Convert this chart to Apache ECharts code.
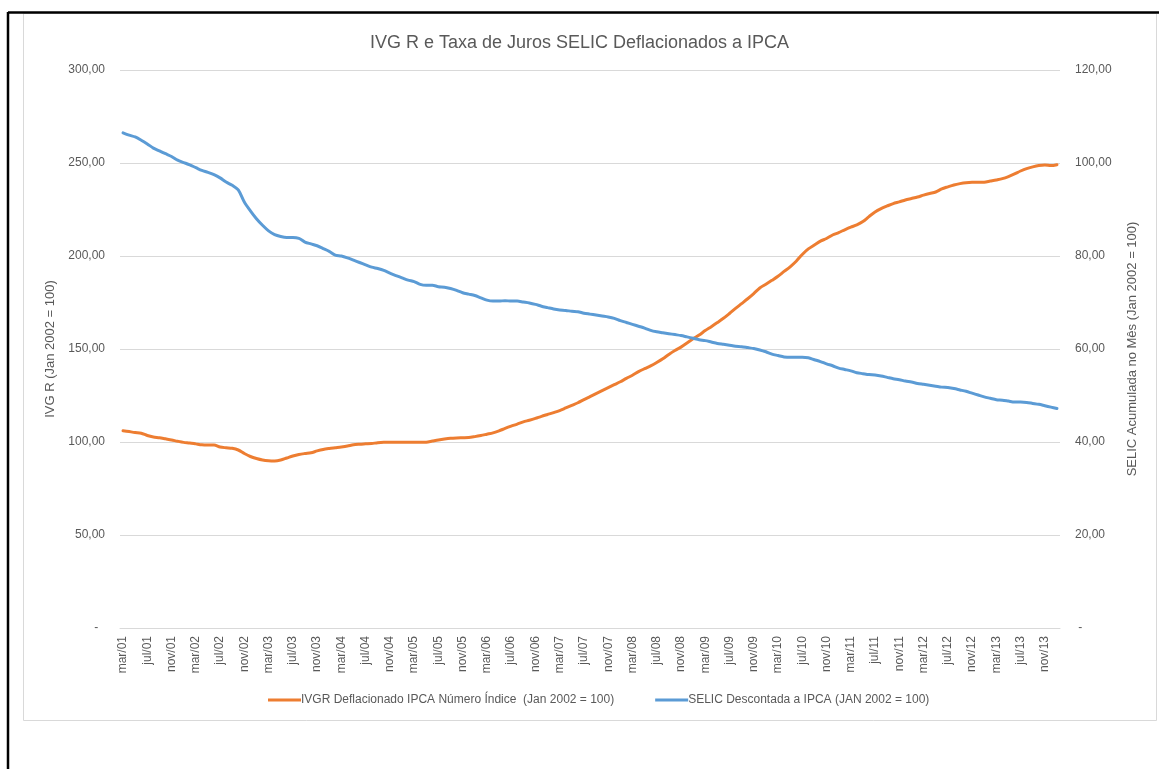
<!DOCTYPE html>
<html>
<head>
<meta charset="utf-8">
<script src="https://cdn.jsdelivr.net/npm/echarts@6/dist/echarts.min.js"></script>
<style>
html,body{margin:0;padding:0;background:#fff;}
#chart{width:1159px;height:769px;}
</style>
</head>
<body>
<div id="chart"></div>
<script>
// Months (Portuguese abbreviations), series runs mar/01 .. jan/14
var monthNames = ["jan","fev","mar","abr","mai","jun","jul","ago","set","out","nov","dez"];
var categories = [];
(function(){
  var y = 2001, m = 2;
  for (var k = 0; k < 155; k++) {
    categories.push(monthNames[m] + "/" + String(y % 100).padStart(2, "0"));
    m++; if (m === 12) { m = 0; y++; }
  }
})();

var ivgrValues = [
106.1,105.6,105.1,104.7,103.5,102.7,102.3,101.7,101.1,100.4,
99.8,99.5,99.0,98.5,98.4,98.4,97.3,96.9,96.6,95.7,
93.8,92.2,91.1,90.3,89.9,89.8,90.3,91.4,92.5,93.3,
93.8,94.2,95.2,96.0,96.5,96.9,97.3,97.8,98.5,98.8,
99.0,99.2,99.6,99.8,99.8,99.8,99.8,99.9,99.9,99.8,
99.9,100.5,101.1,101.6,102.0,102.2,102.3,102.4,102.9,103.5,
104.2,104.9,106.0,107.3,108.5,109.6,110.8,111.7,112.7,113.8,
114.8,115.8,116.9,118.3,119.7,121.1,122.8,124.4,126.0,127.6,
129.2,130.8,132.4,134.2,135.9,137.8,139.4,140.9,142.7,144.7,
147.1,149.2,151.0,153.2,155.5,157.5,159.9,162.0,164.2,166.5,
169.1,171.8,174.4,177.0,179.8,182.8,184.8,186.9,189.1,191.7,
194.2,197.2,200.8,203.8,205.9,208.0,209.4,211.3,212.6,214.1,
215.5,216.7,218.5,221.2,223.7,225.5,226.9,228.2,229.1,230.1,
230.9,231.7,232.7,233.6,234.4,236.1,237.2,238.2,238.9,239.4,
239.6,239.6,239.7,240.3,240.9,241.6,242.7,244.1,245.7,247.0,
247.9,248.6,248.9,248.6,249.1
];

var selicValues = [
106.5,106.0,105.6,104.9,104.1,103.2,102.6,102.0,101.4,100.6,
100.1,99.6,99.0,98.4,98.0,97.5,96.8,95.9,95.2,94.2,
91.6,89.7,88.0,86.6,85.4,84.6,84.2,84.0,84.0,83.8,
83.0,82.6,82.2,81.6,81.0,80.2,80.0,79.6,79.1,78.6,
78.1,77.6,77.3,76.9,76.3,75.8,75.3,74.8,74.5,73.9,
73.7,73.7,73.4,73.3,73.0,72.6,72.1,71.8,71.5,71.0,
70.5,70.3,70.3,70.4,70.3,70.3,70.1,69.9,69.6,69.2,
68.9,68.6,68.4,68.3,68.1,68.0,67.7,67.5,67.3,67.1,
66.9,66.6,66.1,65.7,65.3,64.9,64.5,64.0,63.7,63.5,
63.3,63.1,62.9,62.6,62.3,62.0,61.8,61.5,61.2,61.0,
60.8,60.6,60.5,60.3,60.1,59.8,59.4,58.9,58.6,58.3,
58.2,58.2,58.2,58.1,57.7,57.3,56.8,56.4,55.9,55.6,
55.3,54.9,54.7,54.5,54.4,54.2,53.9,53.6,53.4,53.1,
52.9,52.6,52.4,52.2,52.0,51.8,51.7,51.5,51.2,50.9,
50.5,50.1,49.7,49.4,49.1,49.0,48.8,48.6,48.6,48.5,
48.3,48.1,47.8,47.5,47.2
];

var titleText = "IVG R e Taxa de Juros SELIC Deflacionados a IPCA";
var leftAxisName = "IVG R (Jan 2002 = 100)";
var rightAxisName = "SELIC Acumulada no Mês (Jan 2002 = 100)";
var ivgrName = "IVGR Deflacionado IPCA Número Índice  (Jan 2002 = 100)";
var selicName = "SELIC Descontada a IPCA (JAN 2002 = 100)";

function fmt(v){ return v.toFixed(2).replace(".", ","); }

var FONT = "Liberation Sans";
var TXT = "#595959";

var chart = echarts.init(document.getElementById("chart"), null, {renderer: "canvas"});
chart.setOption({
  animation: false,
  backgroundColor: "#ffffff",
  textStyle: {fontFamily: FONT},
  title: {
    text: titleText,
    left: "center",
    top: 29,
    textStyle: {fontFamily: FONT, fontSize: 18, fontWeight: "normal", color: TXT}
  },
  graphic: [
    {type: "rect", shape: {x: 23.5, y: 13.5, width: 1133, height: 707}, style: {fill: null, stroke: "#d9d9d9", lineWidth: 1}, silent: true},
    {type: "line", shape: {x1: 8, y1: 12.5, x2: 1159, y2: 12.5}, style: {stroke: "#000", lineWidth: 2.5}, silent: true},
    {type: "line", shape: {x1: 8, y1: 12, x2: 8, y2: 769}, style: {stroke: "#000", lineWidth: 2.5}, silent: true}
  ],
  legend: {
    top: 689,
    left: 263,
    icon: "rect",
    itemWidth: 33,
    itemHeight: 3,
    itemGap: 41,
    textStyle: {fontFamily: FONT, fontSize: 12, color: TXT, padding: [0,0,0,-5]},
    data: [ivgrName, selicName]
  },
  grid: {left: 120, right: 99, top: 70, bottom: 141, containLabel: false},
  xAxis: {
    type: "category",
    data: categories,
    boundaryGap: true,
    axisLine: {show: true, lineStyle: {color: "#d9d9d9", width: 1}},
    axisTick: {show: false},
    axisLabel: {rotate: 90, interval: 3, color: TXT, fontFamily: FONT, fontSize: 12, margin: 8}
  },
  yAxis: [
    {
      type: "value", min: 0, max: 300, interval: 50, position: "left",
      name: leftAxisName, nameLocation: "middle", nameRotate: 90, nameGap: 60,
      nameTextStyle: {fontFamily: FONT, fontSize: 13, color: TXT},
      axisLine: {show: false}, axisTick: {show: false},
      splitLine: {show: true, lineStyle: {color: "#d9d9d9", width: 1}},
      axisLabel: {color: TXT, fontFamily: FONT, fontSize: 12, margin: 15,
        formatter: function(v){ return v === 0 ? "-  " : fmt(v); }}
    },
    {
      type: "value", min: 0, max: 120, interval: 20, position: "right",
      name: rightAxisName, nameLocation: "middle", nameRotate: 90, nameGap: 66,
      nameTextStyle: {fontFamily: FONT, fontSize: 13, color: TXT},
      axisLine: {show: false}, axisTick: {show: false},
      splitLine: {show: false},
      axisLabel: {color: TXT, fontFamily: FONT, fontSize: 12, margin: 15,
        formatter: function(v){ return v === 0 ? " -" : fmt(v); }}
    }
  ],
  series: [
    {
      name: ivgrName, type: "line", yAxisIndex: 0, data: ivgrValues,
      showSymbol: false, symbol: "none", smooth: 0.3,
      lineStyle: {color: "#ED7D31", width: 3, cap: "round", join: "round"},
      itemStyle: {color: "#ED7D31"}
    },
    {
      name: selicName, type: "line", yAxisIndex: 1, data: selicValues,
      showSymbol: false, symbol: "none", smooth: 0.3,
      lineStyle: {color: "#5B9BD5", width: 3, cap: "round", join: "round"},
      itemStyle: {color: "#5B9BD5"}
    }
  ]
});
</script>
</body>
</html>
